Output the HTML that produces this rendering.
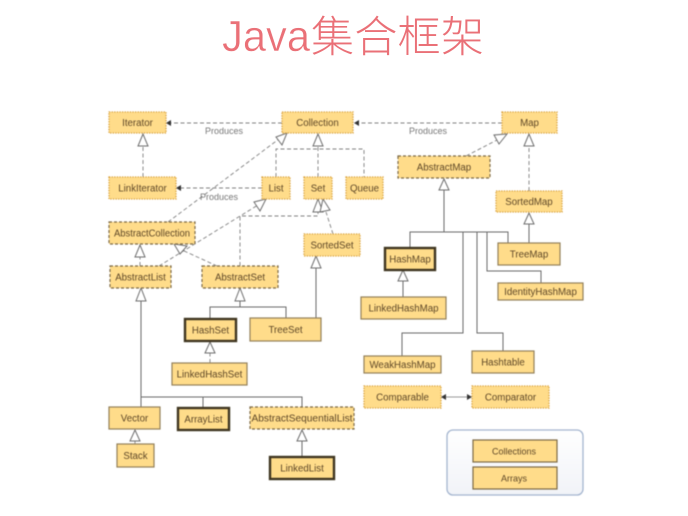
<!DOCTYPE html>
<html>
<head>
<meta charset="utf-8">
<style>
html,body{margin:0;padding:0;background:#fff;width:688px;height:516px;overflow:hidden}
svg{display:block;position:absolute;left:0;top:0}
.blur{filter:blur(0.5px)}
.i{fill:#ffdc8a;stroke:#d8a03c;stroke-width:1.3;stroke-dasharray:1.3 1.3}
.a{fill:#ffdc8a;stroke:#7d6a45;stroke-width:1.2;stroke-dasharray:3 2}
.c{fill:#ffdc8a;stroke:#94805a;stroke-width:1.2}
.h{fill:#ffdc8a;stroke:#3f3520;stroke-width:2.4}
.d{fill:none;stroke:#808080;stroke-width:0.9;stroke-dasharray:4 2.5}
.s{fill:none;stroke:#6a6a6a;stroke-width:1}
.t{fill:#fff;stroke:#6e6e6e;stroke-width:1}
.f{fill:#333;stroke:none}
text{font-family:"Liberation Sans","Noto Sans CJK SC",sans-serif;font-size:9.7px;fill:#5f4828;text-anchor:middle}
.p{fill:#777;font-size:9px}
</style>
</head>
<body>
<svg width="688" height="516" viewBox="0 0 688 516" xmlns="http://www.w3.org/2000/svg">
<text x="222" y="51" textLength="88" lengthAdjust="spacingAndGlyphs" style="font-size:44px;fill:#ea7077;text-anchor:start;stroke:#fff;stroke-width:.5;paint-order:normal">Java</text>
<text x="311" y="52" textLength="173" style="font-family:'Noto Sans CJK SC',sans-serif;font-size:43px;fill:#ea7077;text-anchor:start;font-weight:300">集合框架</text>
<g class="blur">
<defs>
<linearGradient id="pg" x1="0" y1="0" x2="0" y2="1"><stop offset="0" stop-color="#ffffff"/><stop offset="1" stop-color="#f1f3f8"/></linearGradient>
</defs>
<!-- connectors -->
<path class="d" d="M282 123H170"/><polygon class="f" points="166,123 171,120 171,126"/>
<path class="d" d="M502 123H358"/><polygon class="f" points="354,123 359,120 359,126"/>
<path class="d" d="M262 188H180"/><polygon class="f" points="176,188 181,185 181,191"/>
<path class="d" d="M143 177V146"/><polygon class="t" points="143,134 138,146 148,146"/>
<path class="d" d="M318 177V146M276 177V149H364V177"/><polygon class="t" points="318,134 313,146 323,146"/>
<path class="d" d="M168 222L279 139"/><polygon class="t" points="287,133 276,137 282,145"/>
<path class="d" d="M159 266L258 205"/><polygon class="t" points="266,199 254,202 260,211"/>
<path class="d" d="M240 266V216H318V212"/><polygon class="t" points="318,199 313,212 323,212"/>
<path class="d" d="M333 234L326 212"/><polygon class="t" points="323,199 320,212 330,210"/>
<path class="d" d="M140 266V257"/><polygon class="t" points="140,245 135,257 145,257"/>
<path class="d" d="M217 266L182 250"/><polygon class="t" points="174,244 180,254 187,246"/>
<path class="s" d="M316 318V268"/><polygon class="t" points="316,256 311,268 321,268"/>
<path class="s" d="M141 407V301M141 397H302V407M203 397V407"/><polygon class="t" points="141,288 136,301 146,301"/>
<path class="s" d="M240 307V301M210 318V307H286V318"/><polygon class="t" points="240,288 235,301 245,301"/>
<path class="d" d="M210 363V353"/><polygon class="t" points="210,342 205,353 215,353"/>
<path class="d" d="M135 444V441"/><polygon class="t" points="135,430 130,441 140,441"/>
<path class="s" d="M302 456V441"/><polygon class="t" points="302,430 297,441 307,441"/>
<path class="d" d="M466 156L497 140"/><polygon class="t" points="507,134 494,135 499,144"/>
<path class="d" d="M529 191V146"/><polygon class="t" points="529,134 524,146 534,146"/>
<path class="s" d="M529 243V224"/><polygon class="t" points="529,213 524,224 534,224"/>
<path class="s" d="M444 232V190M410 247V232H508V243"/><polygon class="t" points="444,179 439,190 449,190"/>
<path class="s" d="M463 232V333H402V356"/>
<path class="s" d="M477 232V333H503V351"/>
<path class="s" d="M487 232V271H541V283"/>
<path class="s" d="M403 297V281"/><polygon class="t" points="403,270 398,281 408,281"/>
<path class="s" style="stroke:#999" d="M445 397H468"/>
<polygon class="f" points="441,397 446,394 446,400"/><polygon class="f" points="472,397 467,394 467,400"/>
<!-- labels -->
<text class="p" x="224" y="134">Produces</text>
<text class="p" x="428" y="134">Produces</text>
<text class="p" x="219" y="200">Produces</text>
<!-- panel -->
<rect x="447" y="430" width="136" height="65" rx="6" fill="url(#pg)" stroke="#a4b5cf" stroke-width="1.3"/>
<!-- nodes -->
<rect class="i" x="109" y="112" width="57" height="21"/><text x="137.500" y="126">Iterator</text>
<rect class="i" x="282" y="112" width="71" height="21"/><text x="317.500" y="126">Collection</text>
<rect class="i" x="502" y="112" width="55" height="21"/><text x="529.500" y="126">Map</text>
<rect class="a" x="398" y="156" width="92" height="22"/><text x="444" y="170.500">AbstractMap</text>
<rect class="i" x="109" y="177" width="67" height="22"/><text x="142.500" y="191.500">LinkIterator</text>
<rect class="i" x="262" y="177" width="28" height="22"/><text x="276" y="191.500">List</text>
<rect class="i" x="304" y="177" width="28" height="22"/><text x="318" y="191.500">Set</text>
<rect class="i" x="346" y="177" width="37" height="22"/><text x="364.500" y="191.500">Queue</text>
<rect class="i" x="496" y="191" width="66" height="21"/><text x="529" y="205">SortedMap</text>
<rect class="a" x="109" y="222" width="86" height="22"/><text x="152" y="236.500" textLength="76" lengthAdjust="spacingAndGlyphs">AbstractCollection</text>
<rect class="i" x="304" y="234" width="56" height="22"/><text x="332" y="248.500">SortedSet</text>
<rect class="h" x="385" y="248" width="50" height="22"/><text x="410" y="262.500">HashMap</text>
<rect class="c" x="498" y="243" width="62" height="22"/><text x="529" y="257.500">TreeMap</text>
<rect class="a" x="110" y="266" width="61" height="22"/><text x="140.500" y="280.500">AbstractList</text>
<rect class="a" x="202" y="266" width="76" height="22"/><text x="240" y="280.500">AbstractSet</text>
<rect class="c" x="498" y="283" width="85" height="17"/><text x="540.500" y="295">IdentityHashMap</text>
<rect class="c" x="361" y="297" width="85" height="22"/><text x="403.500" y="311.500">LinkedHashMap</text>
<rect class="h" x="185" y="319" width="51" height="22"/><text x="210.500" y="333.500">HashSet</text>
<rect class="c" x="250" y="318" width="71" height="23"/><text x="285.500" y="333">TreeSet</text>
<rect class="c" x="364" y="356" width="77" height="17"/><text x="402.500" y="368">WeakHashMap</text>
<rect class="c" x="472" y="351" width="62" height="22"/><text x="503" y="365.500">Hashtable</text>
<rect class="c" x="172" y="363" width="75" height="22"/><text x="209.500" y="377.500">LinkedHashSet</text>
<rect class="i" x="364" y="386" width="77" height="22"/><text x="402.500" y="400.500">Comparable</text>
<rect class="i" x="472" y="386" width="77" height="22"/><text x="510.500" y="400.500">Comparator</text>
<rect class="c" x="109" y="407" width="51" height="22"/><text x="134.500" y="421.500">Vector</text>
<rect class="h" x="178" y="408" width="51" height="22"/><text x="203.500" y="422.500">ArrayList</text>
<rect class="a" x="250" y="407" width="104" height="22"/><text x="302" y="421.500" textLength="101" lengthAdjust="spacingAndGlyphs">AbstractSequentialList</text>
<rect class="c" x="117" y="444" width="37" height="23"/><text x="135.500" y="459">Stack</text>
<rect class="h" x="270" y="457" width="64" height="22"/><text x="302" y="471.500">LinkedList</text>
<rect class="c" x="473" y="440" width="84" height="22" style="stroke:#7d6a45"/><text x="514" y="454.500" style="font-size:9px">Collections</text>
<rect class="c" x="473" y="467" width="84" height="22" style="stroke:#7d6a45"/><text x="514" y="481.500" style="font-size:9px">Arrays</text>
</g>
</svg>
</body>
</html>
